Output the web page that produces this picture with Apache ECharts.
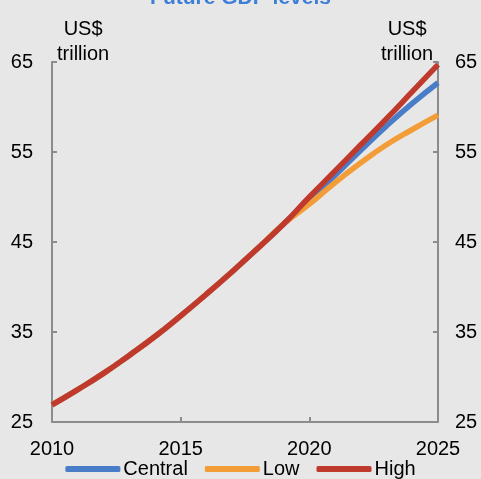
<!DOCTYPE html>
<html>
<head>
<meta charset="utf-8">
<script src="https://cdn.jsdelivr.net/npm/echarts@6/dist/echarts.min.js"></script>
<style>
  html, body { margin: 0; padding: 0; background: #e7e7e7; }
  #chart { width: 481px; height: 479px; }
</style>
</head>
<body>
<div id="chart"></div>
<script>
// GDP levels, US$ trillion
const years = [2010, 2011, 2012, 2013, 2014, 2015, 2016, 2017, 2018, 2019, 2020, 2021, 2022, 2023, 2024, 2025]
const central = [26.9, 28.6, 30.4, 32.4, 34.5, 36.8, 39.2, 41.7, 44.3, 47.0, 49.6, 52.4, 55.2, 57.9, 60.4, 62.7]
const low = [26.9, 28.6, 30.4, 32.4, 34.5, 36.8, 39.2, 41.7, 44.3, 47.0, 49.2, 51.6, 53.8, 55.8, 57.5, 59.1]
const high = [26.9, 28.6, 30.4, 32.4, 34.5, 36.8, 39.2, 41.7, 44.3, 47.0, 50.0, 52.9, 55.8, 58.7, 61.7, 64.7]
const yTicks = [25, 35, 45, 55, 65]

const font = 'Liberation Sans, Arial, sans-serif'
const axisGrey = '#8c8c8c'

const pairs = vals => years.map((y, i) => [y, vals[i]])

const lineSeries = (name, vals, color) => ({
  name: name,
  type: 'line',
  data: pairs(vals),
  smooth: true,
  showSymbol: false,
  lineStyle: { color: color, width: 5.5 },
  itemStyle: { color: color }
})

const yAxisBase = pos => ({
  type: 'value',
  position: pos,
  min: yTicks[0],
  max: yTicks[yTicks.length - 1],
  interval: 10,
  axisLine: { show: true, lineStyle: { color: axisGrey, width: 2 } },
  axisTick: { show: true, inside: true, length: 5, lineStyle: { color: axisGrey, width: 2 } },
  axisLabel: { color: '#000', fontSize: 20, fontFamily: font, margin: pos === 'left' ? 19 : 17 },
  splitLine: { show: false }
})

const chart = echarts.init(document.getElementById('chart'))
chart.setOption({
  backgroundColor: '#e7e7e7',
  animation: false,
  title: {
    text: 'Future GDP levels',
    left: 'center',
    top: -17,
    textStyle: { color: '#3d7ed8', fontSize: 21, fontWeight: 'bold', fontFamily: font }
  },
  grid: { left: 52, right: 43, top: 62, bottom: 57 },
  xAxis: {
    type: 'value',
    min: 2010,
    max: 2025,
    interval: 5,
    axisLine: { show: true, lineStyle: { color: axisGrey, width: 2 } },
    axisTick: { show: true, inside: true, length: 5, lineStyle: { color: axisGrey, width: 2 } },
    axisLabel: { color: '#000', fontSize: 20, fontFamily: font, margin: 17, formatter: v => String(v) },
    splitLine: { show: false }
  },
  yAxis: [yAxisBase('left'), yAxisBase('right')],
  legend: {
    bottom: -5,
    left: 'center',
    icon: 'roundRect',
    itemWidth: 55,
    itemHeight: 6,
    itemGap: 17,
    data: ['Central', 'Low', 'High'],
    textStyle: { color: '#000', fontSize: 20, fontFamily: font, padding: [0, 0, 0, -2] }
  },
  graphic: [
    {
      type: 'text', left: 57, top: 17,
      style: { text: 'US$\ntrillion', fill: '#000', font: '20px ' + font, textAlign: 'center', lineHeight: 25 }
    },
    {
      type: 'text', left: 381, top: 17,
      style: { text: 'US$\ntrillion', fill: '#000', font: '20px ' + font, textAlign: 'center', lineHeight: 25 }
    }
  ],
  series: [
    lineSeries('Central', central, '#4a7dc8'),
    lineSeries('Low', low, '#f29d37'),
    lineSeries('High', high, '#bf3a2d')
  ]
})
</script>
</body>
</html>
